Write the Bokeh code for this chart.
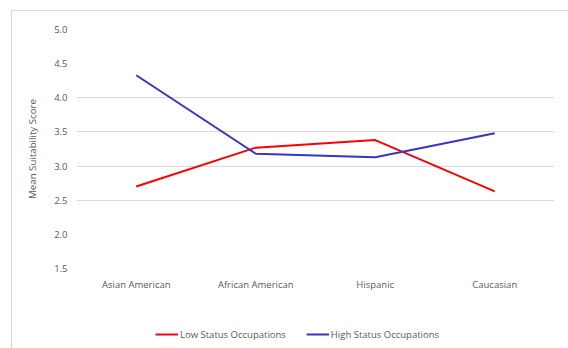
from bokeh.plotting import figure
from bokeh.layouts import column
from bokeh.models import Legend, LegendItem, FixedTicker, CustomJSTickFormatter
from bokeh.embed import file_html
from bokeh.resources import INLINE

# Groups on the x axis
groups = ["Asian American", "African American", "Hispanic", "Caucasian"]

# Mean suitability scores per group
low_status = [2.70, 3.27, 3.38, 2.63]
high_status = [4.33, 3.18, 3.13, 3.48]

series_names = ["Low Status Occupations", "High Status Occupations"]
series_values = [low_status, high_status]
series_colors = ["#ff0000", "#3535c8"]

y_ticks = [1.5, 2.0, 2.5, 3.0, 3.5, 4.0, 4.5, 5.0]
grid_values = [2.5, 3.0, 3.5, 4.0]

FONT = "Open Sans"
TEXT = "#595959"

# main chart
p = figure(
    x_range=groups, y_range=(1.5, 5.0),
    width=557, height=300,
    output_backend="svg", toolbar_location=None,
    min_border_left=64, min_border_right=15,
    min_border_top=18, min_border_bottom=43,
)
p.x_range.range_padding = 0
p.outline_line_color = None
p.border_fill_color = "white"

p.xgrid.grid_line_color = None
p.ygrid.ticker = FixedTicker(ticks=grid_values)
p.ygrid.grid_line_color = "#d9d9d9"
p.ygrid.grid_line_width = 1.2

p.yaxis.ticker = FixedTicker(ticks=y_ticks)
p.yaxis.formatter = CustomJSTickFormatter(code="return tick.toFixed(1);")

for ax in (p.xaxis[0], p.yaxis[0]):
    ax.axis_line_color = None
    ax.major_tick_line_color = None
    ax.minor_tick_line_color = None
    ax.major_tick_out = 0
    ax.minor_tick_out = 0
    ax.major_label_text_font = FONT
    ax.major_label_text_font_size = "9.5px"
    ax.major_label_text_color = TEXT

p.xaxis.major_label_standoff = 9
p.yaxis.major_label_standoff = 9
p.yaxis.axis_label = "Mean Suitability Score"
p.yaxis.axis_label_text_font = FONT
p.yaxis.axis_label_text_font_size = "9.7px"
p.yaxis.axis_label_text_font_style = "normal"
p.yaxis.axis_label_text_color = TEXT
p.yaxis.axis_label_standoff = 12

for vals, c in zip(series_values, series_colors):
    p.line(groups, vals, line_color=c, line_width=2)

# legend strip under the chart; its y range sits below the data so the
# key renderers only supply the legend swatches
leg = figure(
    x_range=groups, y_range=(0, 1),
    width=557, height=38,
    output_backend="svg", toolbar_location=None,
    x_axis_location=None, y_axis_location=None,
    min_border_left=0, min_border_right=0,
    min_border_top=0, min_border_bottom=0,
)
leg.grid.visible = False
leg.outline_line_color = None
keys = [leg.line(groups, vals, line_color=c, line_width=2)
        for vals, c in zip(series_values, series_colors)]

legend = Legend(
    items=[LegendItem(label=n, renderers=[r]) for n, r in zip(series_names, keys)],
    orientation="horizontal",
    location=(79, 8),
    padding=0, margin=0, spacing=20,
    glyph_width=23, glyph_height=10, label_height=14, label_standoff=2,
    label_text_font=FONT, label_text_font_size="9.5px",
    label_text_color=TEXT,
    border_line_color=None, background_fill_alpha=0,
)
leg.add_layout(legend)

layout = column(
    p, leg, spacing=0,
    margin=(10, 0, 0, 11),
    styles={"border-top": "1px solid #d9d9d9", "border-left": "1px solid #d9d9d9"},
)

open("out.html", "w").write(file_html(layout, INLINE))
